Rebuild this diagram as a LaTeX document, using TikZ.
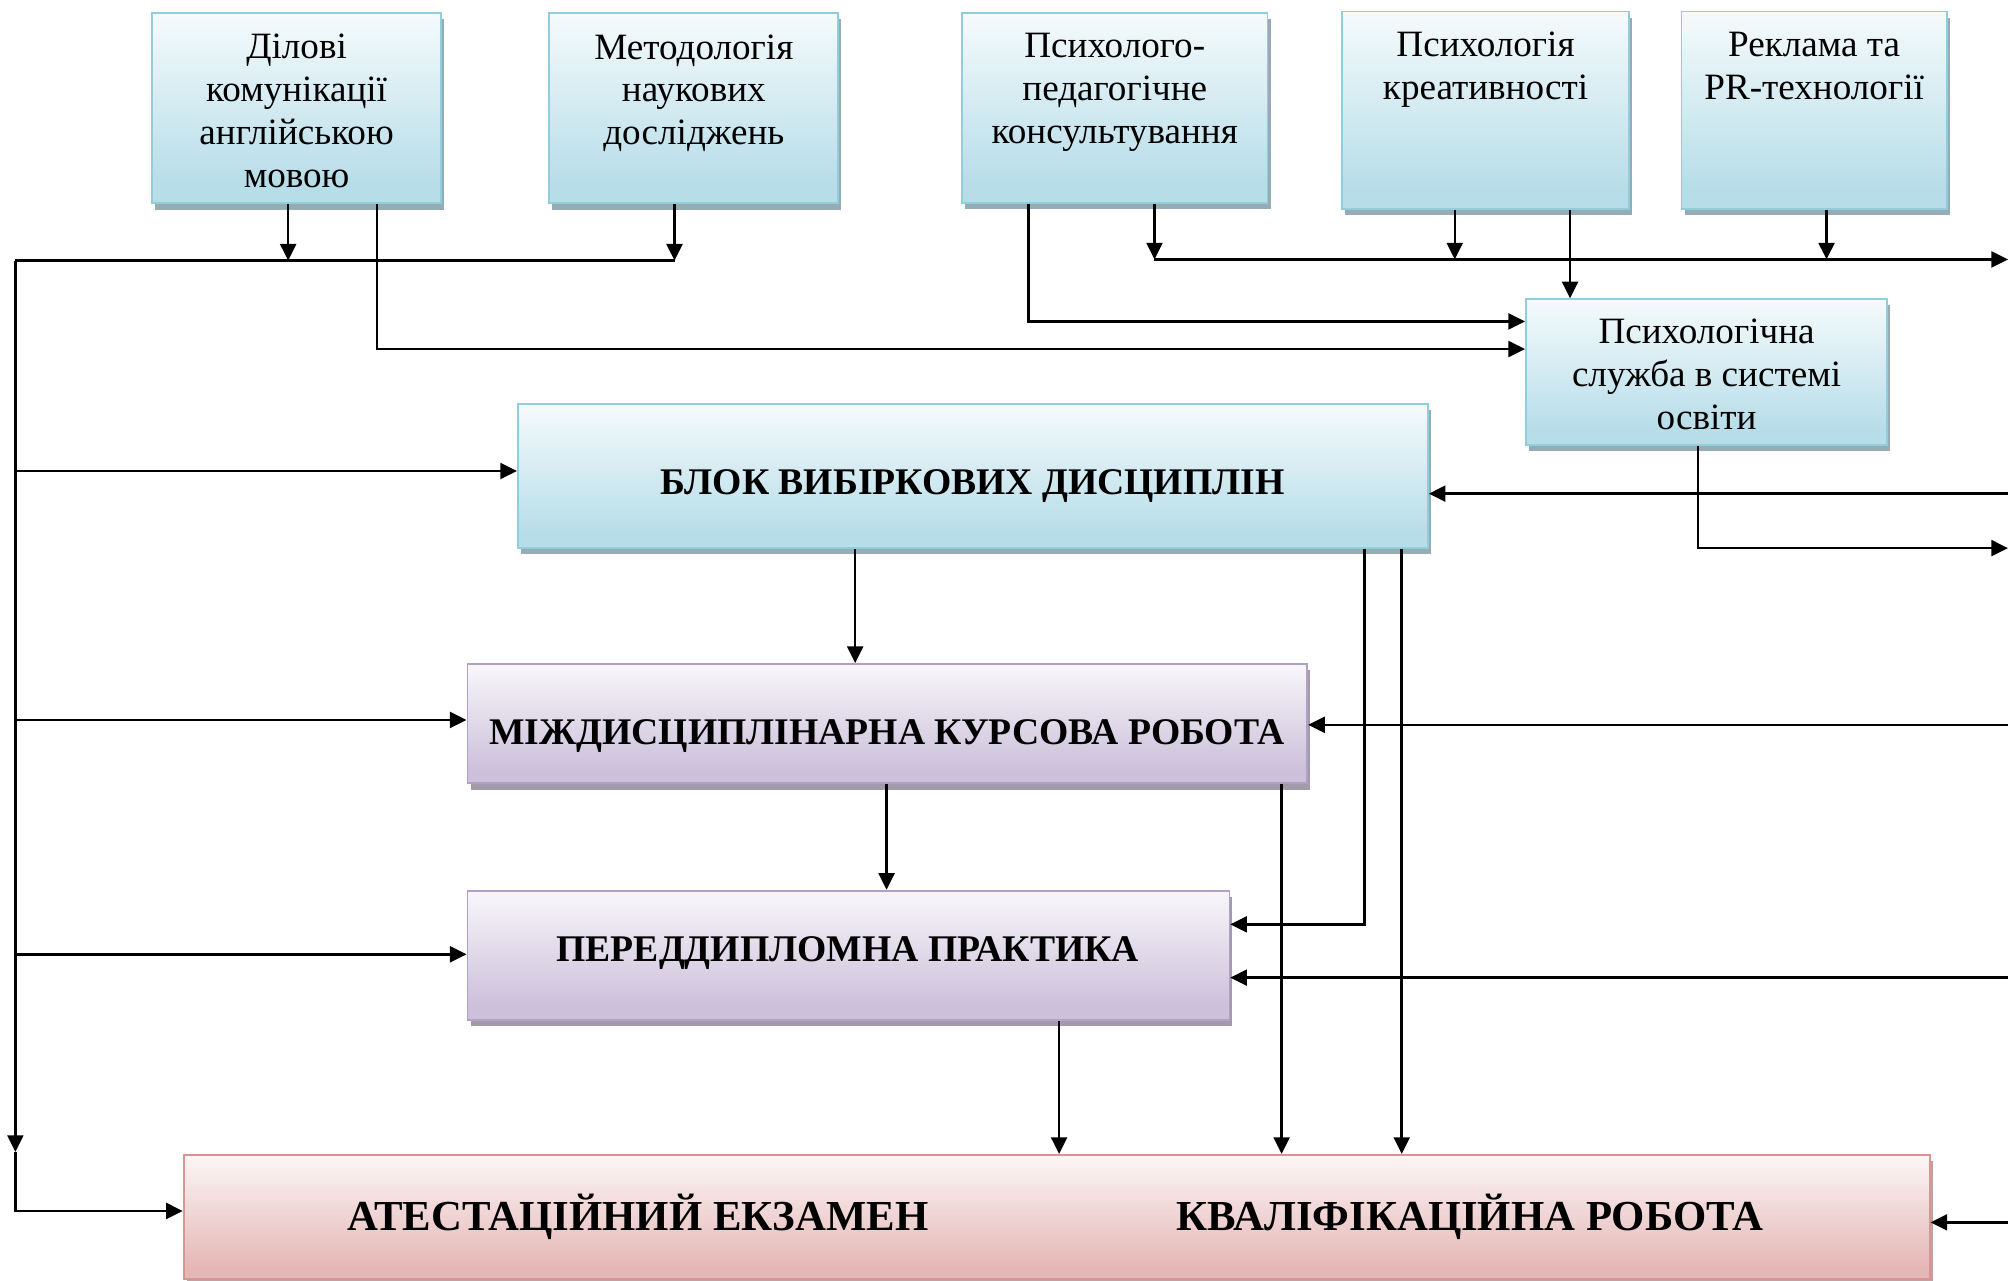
\documentclass[tikz,border=0pt]{standalone}
\usepackage{fontspec}
\setmainfont{Liberation Serif}
\usetikzlibrary{arrows.meta}
\usetikzlibrary{shadows}

\definecolor{blueFill}{RGB}{183,221,232}
\definecolor{blueLine}{RGB}{146,205,220}
\definecolor{blueShade}{RGB}{150,172,180}
\definecolor{violetFill}{RGB}{204,192,218}
\definecolor{violetLine}{RGB}{178,161,199}
\definecolor{violetShade}{RGB}{163,154,172}
\definecolor{roseFill}{RGB}{229,184,183}
\definecolor{roseLine}{RGB}{217,149,148}
\definecolor{roseShade}{RGB}{196,160,160}

% white on top, colour in the lower part
\pgfdeclareverticalshading{blueFade}{100bp}{color(0bp)=(blueFill); color(30bp)=(blueFill); color(82bp)=(white); color(100bp)=(white)}
\pgfdeclareverticalshading{violetFade}{100bp}{color(0bp)=(violetFill); color(30bp)=(violetFill); color(82bp)=(white); color(100bp)=(white)}
\pgfdeclareverticalshading{roseFade}{100bp}{color(0bp)=(roseFill); color(30bp)=(roseFill); color(82bp)=(white); color(100bp)=(white)}

\tikzset{
  box/.style={draw=#1Line, line width=0.7pt, shading=#1Fade, inner sep=0pt,
    drop shadow={shadow xshift=1.2pt, shadow yshift=-2.4pt, fill=#1Shade, opacity=1}},
  toptext/.style={anchor=north, inner sep=0pt, align=center, font=\fontsize{14.5}{16.75}\selectfont},
  bigtext/.style={anchor=base, inner sep=0pt, font=\fontsize{14.7}{17}\selectfont\bfseries},
  hugetext/.style={anchor=base, inner sep=0pt, font=\fontsize{16.7}{19}\selectfont\bfseries},
  wire/.style={line width=1pt},
  arr/.style={line width=1pt, -{Triangle[length=6.5pt,width=6.2pt]}}
}

\begin{document}
\begin{tikzpicture}[x=0.5pt,y=0.5pt,yscale=-1,xscale=1]
\useasboundingbox (0,0) rectangle (1568,1000);

% Boxes
\node[box=blue, minimum width=112.7pt, minimum height=74.2pt] (dil) at (231.6,84.6) {};
\node[box=blue, minimum width=112.8pt, minimum height=74.2pt] (met) at (541.8,84.6) {};
\node[box=blue, minimum width=119.2pt, minimum height=74pt] (psp) at (870.5,84.3) {};
\node[box=blue, minimum width=112.3pt, minimum height=77pt] (kre) at (1160,86) {};
\node[box=blue, minimum width=103.5pt, minimum height=77pt] (rek) at (1416.6,86) {};
\node[box=blue, minimum width=141pt, minimum height=56.8pt] (psl) at (1332.6,290.5) {};
\node[box=blue, minimum width=355.3pt, minimum height=56.2pt] (blk) at (759.7,371.8) {};
\node[box=violet, minimum width=327.9pt, minimum height=46.6pt] (mkr) at (692.9,565.1) {};
\node[box=violet, minimum width=297.5pt, minimum height=50.5pt] (ppr) at (662.5,746) {};
\node[box=rose, minimum width=681.7pt, minimum height=48.6pt] (atk) at (825.1,950.4) {};

% Text Node
\node[toptext] (dilT) at (231.6,26.1) {Ділові\\комунікації\\англійською\\мовою};
% Text Node
\node[toptext] (metT) at (541.8,26.5) {Методологія\\наукових\\досліджень};
% Text Node
\node[toptext] (pspT) at (870.5,25.9) {Психолого-\\педагогічне\\консультування};
% Text Node
\node[toptext] (kreT) at (1160,24.7) {Психологія\\креативності};
% Text Node
\node[toptext] (rekT) at (1416.6,24.7) {Реклама та\\PR-технології};
% Text Node
\node[toptext] (pslT) at (1332.6,248.9) {Психологічна\\служба в системі\\освіти};
% Text Node
\node[bigtext] (blkT) at (759.5,386) {БЛОК ВИБІРКОВИХ ДИСЦИПЛІН};
% Text Node
\node[bigtext] (mkrT) at (692.5,581) {МІЖДИСЦИПЛІНАРНА КУРСОВА РОБОТА};
% Text Node
\node[bigtext] (pprT) at (662,751) {ПЕРЕДДИПЛОМНА ПРАКТИКА};
% Text Node
\node[hugetext] (ateT) at (498,960.5) {АТЕСТАЦІЙНИЙ ЕКЗАМЕН};
% Text Node
\node[hugetext] (kvaT) at (1148,960.5) {КВАЛІФІКАЦІЙНА РОБОТА};

%Straight Lines: left bus
\coordinate (tl) at (12,203.5);
\coordinate (tm) at (526.7,203.5);
\coordinate (d1) at (225,203.5);
\coordinate (ld) at (12,899.5);
\coordinate (lb) at (12,945.6);
\draw[wire] (tl) -- (tm);
\draw[arr] (dil.south -| d1) -- (d1);
\draw[arr] (met.south -| tm) -- (tm);
\draw[arr] (tl) -- (ld);
\draw[arr] (ld) -- (lb) -- (lb -| atk.west);
\coordinate (l1) at (12,367.8);
\draw[arr] (l1) -- (l1 -| blk.west);
\coordinate (l2) at (12,562.2);
\draw[arr] (l2) -- (l2 -| mkr.west);
\coordinate (l3) at (12,745.2);
\draw[arr] (l3) -- (l3 -| ppr.west);

%Straight Lines: into psl
\coordinate (c1) at (294.5,272.6);
\draw[arr] (dil.south -| c1) -- (c1) -- (c1 -| psl.west);
\coordinate (c2) at (803.2,251);
\draw[arr] (psp.south -| c2) -- (c2) -- (c2 -| psl.west);
\coordinate (c3) at (1226,220);
\draw[arr] (kre.south -| c3) -- (psl.north -| c3);

%Straight Lines: right bus
\coordinate (r0) at (901.5,202.6);
\coordinate (r1) at (1568,202.6);
\coordinate (k1) at (1136,202.6);
\coordinate (k2) at (1426.3,202.6);
\draw[arr] (r0) -- (r1);
\draw[arr] (psp.south -| r0) -- (r0);
\draw[arr] (kre.south -| k1) -- (k1);
\draw[arr] (rek.south -| k2) -- (k2);
\coordinate (c4) at (1326,428);
\coordinate (r2) at (1568,428);
\draw[arr] (psl.south -| c4) -- (c4) -- (r2);

%Straight Lines: from the right edge
\coordinate (e1) at (1568,385.5);
\draw[arr] (e1) -- (e1 -| blk.east);
\coordinate (e2) at (1568,566);
\draw[arr] (e2) -- (e2 -| mkr.east);
\coordinate (e3) at (1568,763.4);
\draw[arr] (e3) -- (e3 -| ppr.east);
\coordinate (e4) at (1568,954.5);
\draw[arr] (e4) -- (e4 -| atk.east);

%Straight Lines: between the blocks
\coordinate (v1) at (667.8,450);
\draw[arr] (blk.south -| v1) -- (mkr.north -| v1);
\coordinate (v2) at (1065.5,721.8);
\draw[arr] (blk.south -| v2) -- (v2) -- (v2 -| ppr.east);
\coordinate (v3) at (1094.6,450);
\draw[arr] (blk.south -| v3) -- (atk.north -| v3);
\coordinate (v4) at (692.3,650);
\draw[arr] (mkr.south -| v4) -- (ppr.north -| v4);
\coordinate (v5) at (1000.8,650);
\draw[arr] (mkr.south -| v5) -- (atk.north -| v5);
\coordinate (v6) at (827,850);
\draw[arr] (ppr.south -| v6) -- (atk.north -| v6);

\end{tikzpicture}
\end{document}
